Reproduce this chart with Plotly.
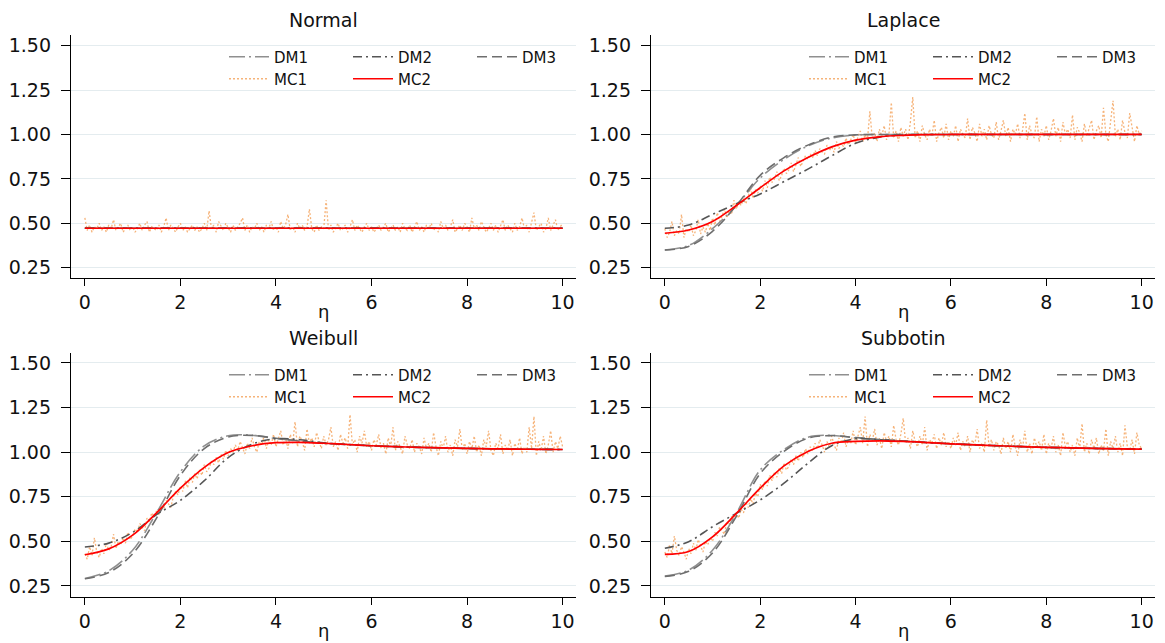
import numpy as np
import plotly.graph_objects as go

# ---------------- data ----------------
PANELS = ["Normal", "Laplace", "Weibull", "Subbotin"]
SERIES = ["DM1", "DM2", "DM3", "MC1", "MC2"]

ETA_SMOOTH = [0.0, 0.5, 1.0, 1.5, 2.0, 2.5, 3.0, 3.5, 4.0, 4.5, 5.0,
              5.5, 6.0, 6.5, 7.0, 7.5, 8.0, 8.5, 9.0, 9.5, 10.0]
X_TICKS = [0, 2, 4, 6, 8, 10]
Y_TICKS = [0.25, 0.50, 0.75, 1.00, 1.25, 1.50]
Y_TICK_LABELS = ["0.25", "0.50", "0.75", "1.00", "1.25", "1.50"]
X_TITLE = "η"

# Normal
normal_dm1 = [0.472, 0.472, 0.472, 0.472, 0.472, 0.472, 0.472, 0.472, 0.472, 0.472, 0.472,
              0.472, 0.472, 0.472, 0.472, 0.472, 0.472, 0.472, 0.472, 0.472, 0.472]
normal_dm2 = [0.473, 0.473, 0.473, 0.473, 0.473, 0.473, 0.473, 0.473, 0.473, 0.473, 0.473,
              0.473, 0.473, 0.473, 0.473, 0.473, 0.473, 0.473, 0.473, 0.473, 0.473]
normal_dm3 = [0.472, 0.472, 0.472, 0.472, 0.472, 0.472, 0.472, 0.472, 0.472, 0.472, 0.472,
              0.472, 0.472, 0.472, 0.472, 0.472, 0.472, 0.472, 0.472, 0.472, 0.472]
normal_mc2 = [0.472, 0.472, 0.472, 0.472, 0.472, 0.472, 0.472, 0.472, 0.472, 0.472, 0.472,
              0.472, 0.472, 0.472, 0.472, 0.472, 0.472, 0.472, 0.472, 0.472, 0.472]
normal_mc1 = [
    0.53, 0.46, 0.49, 0.45, 0.48, 0.47, 0.50, 0.46, 0.48, 0.45, 0.49, 0.47, 0.52, 0.46, 0.48, 0.50, 0.45, 0.47, 0.49, 0.46,
    0.48, 0.45, 0.47, 0.50, 0.46, 0.49, 0.51, 0.45, 0.48, 0.47, 0.46, 0.49, 0.45, 0.48, 0.53, 0.46, 0.49, 0.47, 0.45, 0.48,
    0.50, 0.46, 0.48, 0.45, 0.47, 0.49, 0.46, 0.48, 0.45, 0.47, 0.50, 0.46, 0.57, 0.47, 0.49, 0.45, 0.51, 0.48, 0.46, 0.50,
    0.47, 0.45, 0.49, 0.46, 0.48, 0.50, 0.53, 0.46, 0.49, 0.45, 0.48, 0.47, 0.50, 0.46, 0.48, 0.45, 0.49, 0.47, 0.51, 0.46,
    0.48, 0.45, 0.51, 0.47, 0.49, 0.55, 0.46, 0.48, 0.45, 0.50, 0.47, 0.49, 0.46, 0.48, 0.58, 0.47, 0.45, 0.49, 0.46, 0.48,
    0.47, 0.63, 0.46, 0.49, 0.45, 0.48, 0.50, 0.46, 0.47, 0.49, 0.45, 0.48, 0.52, 0.46, 0.49, 0.47, 0.45, 0.48, 0.50, 0.46,
    0.48, 0.45, 0.47, 0.49, 0.46, 0.48, 0.50, 0.45, 0.47, 0.49, 0.46, 0.48, 0.45, 0.50, 0.47, 0.46, 0.49, 0.45, 0.48, 0.51,
    0.46, 0.48, 0.45, 0.49, 0.47, 0.50, 0.46, 0.48, 0.45, 0.51, 0.47, 0.49, 0.46, 0.48, 0.52, 0.45, 0.47, 0.49, 0.46, 0.50,
    0.48, 0.45, 0.53, 0.47, 0.49, 0.46, 0.51, 0.48, 0.45, 0.47, 0.50, 0.46, 0.49, 0.45, 0.48, 0.52, 0.46, 0.49, 0.47, 0.45,
    0.50, 0.46, 0.48, 0.53, 0.47, 0.49, 0.45, 0.51, 0.56, 0.46, 0.48, 0.50, 0.45, 0.47, 0.53, 0.46, 0.49, 0.52, 0.46, 0.48,
    0.50]

# Laplace
laplace_dm1 = [0.350, 0.375, 0.470, 0.600, 0.755, 0.860, 0.935, 0.980, 0.997, 1.000, 1.000,
               1.000, 1.000, 1.000, 1.000, 1.000, 1.000, 1.000, 1.000, 1.000, 1.000]
laplace_dm2 = [0.472, 0.490, 0.550, 0.610, 0.665, 0.735, 0.805, 0.880, 0.950, 0.985, 0.998,
               1.000, 1.000, 1.000, 1.000, 1.000, 1.000, 1.000, 1.000, 1.000, 1.000]
laplace_dm3 = [0.350, 0.370, 0.455, 0.600, 0.770, 0.870, 0.940, 0.985, 0.998, 1.000, 1.000,
               1.000, 1.000, 1.000, 1.000, 1.000, 1.000, 1.000, 1.000, 1.000, 1.000]
laplace_mc2 = [0.444, 0.462, 0.510, 0.600, 0.700, 0.795, 0.870, 0.930, 0.968, 0.987, 0.995,
               0.999, 1.000, 1.000, 1.000, 1.000, 1.000, 1.000, 1.000, 1.000, 1.000]
laplace_mc1 = [
    0.47, 0.42, 0.45, 0.51, 0.43, 0.46, 0.44, 0.55, 0.42, 0.47, 0.45, 0.49, 0.43, 0.46, 0.52, 0.44, 0.48, 0.45, 0.50, 0.46,
    0.53, 0.49, 0.56, 0.51, 0.54, 0.58, 0.53, 0.57, 0.55, 0.63, 0.58, 0.62, 0.60, 0.64, 0.61, 0.66, 0.70, 0.64, 0.69, 0.67,
    0.71, 0.68, 0.74, 0.70, 0.76, 0.73, 0.75, 0.79, 0.74, 0.77, 0.81, 0.78, 0.80, 0.84, 0.79, 0.83, 0.87, 0.82, 0.85, 0.88,
    0.86, 0.89, 0.87, 0.91, 0.88, 0.92, 0.90, 0.89, 0.94, 0.91, 0.93, 0.90, 0.96, 0.92, 0.95, 0.93, 0.98, 0.94, 0.97, 1.00,
    0.95, 0.99, 1.02, 0.96, 1.00, 0.97, 1.13, 0.98, 1.01, 0.96, 1.03, 0.99, 1.05, 0.97, 1.00, 1.18, 0.98, 1.02, 0.96, 1.04,
    0.99, 1.03, 0.97, 1.07, 1.21, 0.98, 1.02, 0.96, 1.05, 1.00, 0.97, 1.03, 0.99, 1.08, 0.96, 1.01, 1.04, 0.98, 1.06, 0.97,
    1.02, 0.99, 1.05, 0.96, 1.03, 1.00, 0.98, 1.09, 0.97, 1.04, 1.01, 0.96, 1.06, 0.99, 1.03, 0.97, 1.05, 1.00, 0.98, 1.07,
    0.97, 1.02, 1.08, 0.99, 1.04, 0.96, 1.03, 1.00, 1.06, 0.98, 1.02, 1.12, 0.97, 1.05, 1.00, 0.98, 1.10, 0.96, 1.03, 0.99,
    1.05, 0.97, 1.02, 1.09, 0.99, 1.04, 0.96, 1.07, 1.00, 1.03, 0.98, 1.11, 0.97, 1.04, 1.01, 0.96, 1.06, 0.99, 1.03, 1.08,
    0.97, 1.02, 1.05, 0.98, 1.15, 1.00, 0.96, 1.06, 1.19, 0.99, 1.03, 0.97, 1.08, 1.01, 0.98, 1.12, 1.04, 0.96, 1.05, 1.00,
    1.02]

# Weibull
weibull_dm1 = [0.292, 0.335, 0.450, 0.660, 0.890, 1.035, 1.092, 1.095, 1.076, 1.062, 1.050,
               1.043, 1.036, 1.031, 1.027, 1.024, 1.021, 1.019, 1.017, 1.016, 1.015]
weibull_dm2 = [0.468, 0.490, 0.550, 0.650, 0.730, 0.840, 0.970, 1.045, 1.075, 1.070, 1.052,
               1.043, 1.036, 1.031, 1.027, 1.024, 1.021, 1.019, 1.017, 1.016, 1.015]
weibull_dm3 = [0.290, 0.325, 0.430, 0.630, 0.870, 1.020, 1.085, 1.094, 1.078, 1.063, 1.050,
               1.043, 1.036, 1.031, 1.027, 1.024, 1.021, 1.019, 1.017, 1.016, 1.015]
weibull_mc2 = [0.425, 0.458, 0.535, 0.660, 0.798, 0.915, 0.998, 1.036, 1.053, 1.055, 1.050,
               1.043, 1.036, 1.031, 1.027, 1.024, 1.021, 1.019, 1.017, 1.016, 1.015]
weibull_mc1 = [
    0.43, 0.40, 0.47, 0.42, 0.52, 0.44, 0.41, 0.46, 0.43, 0.49, 0.45, 0.47, 0.54, 0.46, 0.50, 0.48, 0.52, 0.49, 0.55, 0.51,
    0.53, 0.57, 0.55, 0.60, 0.58, 0.56, 0.63, 0.61, 0.66, 0.64, 0.67, 0.65, 0.70, 0.68, 0.73, 0.71, 0.69, 0.75, 0.78, 0.76,
    0.81, 0.78, 0.84, 0.80, 0.86, 0.83, 0.88, 0.85, 0.90, 0.87, 0.93, 0.89, 0.91, 0.95, 0.93, 0.97, 0.94, 0.99, 0.96, 1.01,
    0.98, 1.02, 1.00, 1.04, 1.01, 1.06, 1.03, 0.99, 1.05, 1.02, 1.08, 1.03, 1.00, 1.06, 1.04, 1.09, 1.02, 1.07, 1.04, 1.10,
    1.03, 1.07, 1.12, 1.04, 1.08, 1.02, 1.10, 1.05, 1.17, 1.03, 1.09, 1.06, 1.01, 1.13, 1.05, 1.08, 1.03, 1.11, 1.06, 1.02,
    1.09, 1.04, 1.07, 1.14, 1.03, 1.06, 1.01, 1.10, 1.05, 1.08, 1.02, 1.21, 1.04, 1.07, 1.00, 1.09, 1.05, 1.12, 1.03, 1.06,
    1.01, 1.07, 1.04, 1.10, 1.02, 1.05, 0.99, 1.08, 1.03, 1.14, 1.01, 1.06, 1.03, 0.99, 1.09, 1.04, 1.02, 1.07, 1.00, 1.05,
    1.03, 0.99, 1.08, 1.02, 1.05, 1.00, 1.11, 1.03, 0.98, 1.06, 1.02, 1.09, 1.00, 1.04, 0.98, 1.07, 1.03, 1.13, 1.01, 1.05,
    0.99, 1.06, 1.02, 1.09, 1.00, 1.04, 0.98, 1.07, 1.03, 1.12, 1.01, 0.98, 1.05, 1.02, 1.10, 0.99, 1.04, 1.01, 1.07, 0.98,
    1.05, 1.01, 1.08, 0.99, 1.03, 1.00, 1.14, 1.02, 1.20, 0.98, 1.06, 1.01, 1.09, 0.99, 1.04, 1.12, 1.00, 1.06, 1.02, 1.09,
    1.03]

# Subbotin
subbotin_dm1 = [0.305, 0.339, 0.450, 0.657, 0.900, 1.015, 1.084, 1.094, 1.080, 1.070, 1.062,
                1.054, 1.047, 1.041, 1.036, 1.031, 1.027, 1.024, 1.021, 1.019, 1.017]
subbotin_dm2 = [0.461, 0.498, 0.582, 0.657, 0.732, 0.826, 0.938, 1.036, 1.075, 1.070, 1.063,
                1.054, 1.047, 1.041, 1.036, 1.031, 1.027, 1.024, 1.021, 1.019, 1.017]
subbotin_dm3 = [0.303, 0.332, 0.435, 0.640, 0.880, 1.005, 1.078, 1.093, 1.082, 1.071, 1.062,
                1.054, 1.047, 1.041, 1.036, 1.031, 1.027, 1.024, 1.021, 1.019, 1.017]
subbotin_mc2 = [0.427, 0.443, 0.525, 0.657, 0.798, 0.923, 1.004, 1.050, 1.060, 1.063, 1.060,
                1.054, 1.047, 1.041, 1.036, 1.031, 1.027, 1.024, 1.021, 1.019, 1.017]
subbotin_mc1 = [
    0.44, 0.41, 0.48, 0.43, 0.53, 0.45, 0.42, 0.47, 0.44, 0.40, 0.46, 0.43, 0.49, 0.45, 0.51, 0.47, 0.44, 0.50, 0.48, 0.52,
    0.50, 0.55, 0.53, 0.58, 0.56, 0.54, 0.61, 0.59, 0.64, 0.62, 0.66, 0.63, 0.68, 0.66, 0.72, 0.69, 0.74, 0.71, 0.77, 0.75,
    0.82, 0.79, 0.84, 0.81, 0.87, 0.84, 0.89, 0.86, 0.91, 0.88, 0.94, 0.90, 0.92, 0.96, 0.93, 0.98, 0.95, 1.00, 0.97, 1.02,
    0.99, 1.03, 1.01, 1.05, 1.02, 1.07, 1.04, 1.00, 1.06, 1.03, 1.09, 1.04, 1.01, 1.08, 1.05, 1.11, 1.03, 1.07, 1.05, 1.12,
    1.04, 1.09, 1.14, 1.05, 1.20, 1.03, 1.10, 1.06, 1.13, 1.04, 1.08, 1.02, 1.11, 1.06, 1.09, 1.03, 1.15, 1.07, 1.04, 1.10,
    1.19, 1.05, 1.08, 1.02, 1.12, 1.06, 1.03, 1.09, 1.04, 1.14, 1.01, 1.07, 1.05, 1.10, 1.02, 1.08, 1.04, 1.11, 1.03, 1.06,
    1.02, 1.08, 1.04, 1.11, 1.01, 1.06, 1.03, 1.09, 1.00, 1.07, 1.04, 1.13, 1.02, 1.05, 1.00, 1.18, 1.03, 1.07, 1.01, 1.06,
    1.04, 0.99, 1.08, 1.02, 1.06, 1.00, 1.10, 1.03, 0.98, 1.07, 1.02, 1.12, 1.00, 1.05, 0.99, 1.08, 1.03, 1.06, 1.01, 1.10,
    0.99, 1.05, 1.02, 1.09, 1.00, 1.04, 0.98, 1.11, 1.03, 1.06, 1.00, 1.04, 0.98, 1.08, 1.02, 1.16, 1.00, 1.05, 0.99, 1.07,
    1.02, 1.08, 0.99, 1.04, 1.01, 1.13, 0.98, 1.06, 1.02, 1.09, 1.00, 1.05, 0.98, 1.15, 1.03, 1.01, 1.07, 0.99, 1.11, 1.04,
    1.02]

DATA = {
    "Normal": [normal_dm1, normal_dm2, normal_dm3, normal_mc1, normal_mc2],
    "Laplace": [laplace_dm1, laplace_dm2, laplace_dm3, laplace_mc1, laplace_mc2],
    "Weibull": [weibull_dm1, weibull_dm2, weibull_dm3, weibull_mc1, weibull_mc2],
    "Subbotin": [subbotin_dm1, subbotin_dm2, subbotin_dm3, subbotin_mc1, subbotin_mc2],
}

# ---------------- styling ----------------
W, H = 1165, 643
FONT = "DejaVu Sans"
STYLE = {
    "DM1": dict(color="#8f8f8f", width=1.6, dash="16px,4px,2px,4px"),
    "DM2": dict(color="#555555", width=1.6, dash="9px,4px,2px,4px"),
    "DM3": dict(color="#6e6e6e", width=1.6, dash="10px,5px"),
    "MC1": dict(color="rgba(244,166,98,0.85)", width=1.3, dash="2px,2px"),
    "MC2": dict(color="#ff0000", width=1.7, dash="solid"),
}

# panel pixel boxes: (left, right, top, bottom)
BOXES = {
    "Normal": (71, 576, 35, 278),
    "Laplace": (651, 1155, 35, 278),
    "Weibull": (71, 576, 353, 597),
    "Subbotin": (651, 1155, 353, 597),
}
YRANGES = {"Normal": [0.192, 1.56], "Laplace": [0.192, 1.56],
           "Weibull": [0.188, 1.556], "Subbotin": [0.188, 1.556]}

fig = go.Figure()
draw_order = [3, 0, 2, 1, 4]  # MC1 behind, MC2 on top

for p, name in enumerate(PANELS):
    ax = "" if p == 0 else str(p + 1)
    leg_a = "legend" if p == 0 else "legend%d" % (2 * p + 1)
    leg_b = "legend%d" % (2 * p + 2)
    vals = DATA[name]
    for k in draw_order:
        s = SERIES[k]
        y = vals[k]
        if s == "MC1":
            x = np.linspace(0, 10, len(y))
            line = dict(shape="linear", **STYLE[s])
        else:
            x = ETA_SMOOTH
            line = dict(shape="spline", smoothing=1.0, **STYLE[s])
        fig.add_trace(go.Scatter(
            x=x, y=y, mode="lines", name=s, line=line,
            xaxis="x" + ax, yaxis="y" + ax,
            legend=leg_a if s.startswith("DM") else leg_b,
            legendrank=k + 1, showlegend=True, hoverinfo="skip",
        ))

layout = dict(
    width=W, height=H, margin=dict(l=0, r=0, t=0, b=0, autoexpand=False),
    paper_bgcolor="white", plot_bgcolor="white",
    font=dict(family=FONT, size=17, color="#111111"),
    showlegend=True, annotations=[], shapes=[],
)

for p, name in enumerate(PANELS):
    ax = "" if p == 0 else str(p + 1)
    l, r, t, b = BOXES[name]
    xdom = [l / W, r / W]
    ydom = [1 - b / H, 1 - t / H]
    layout["xaxis" + ax] = dict(
        domain=xdom, range=[-0.29, 10.28], anchor="y" + ax, automargin=False,
        tickvals=X_TICKS, ticks="outside", ticklen=7, tickwidth=1.2, tickcolor="#000",
        showline=True, linecolor="#000", linewidth=1.3, showgrid=False, zeroline=False,
        tickfont=dict(family=FONT, size=19, color="#111"),
    )
    layout["yaxis" + ax] = dict(
        domain=ydom, range=YRANGES[name], anchor="x" + ax, automargin=False,
        tickvals=Y_TICKS, ticktext=Y_TICK_LABELS, ticks="outside", ticklen=9, tickwidth=1.2,
        tickcolor="#000", showline=True, linecolor="#000", linewidth=1.3,
        showgrid=True, gridcolor="#e4ecef", gridwidth=1.4, zeroline=False,
        ticklabelstandoff=6,
        tickfont=dict(family=FONT, size=19, color="#111"),
    )
    # panel title
    layout["annotations"].append(dict(
        text=name, x=(xdom[0] + xdom[1]) / 2, y=1 - (t - 15) / H, xref="paper", yref="paper",
        showarrow=False, xanchor="center", yanchor="middle",
        font=dict(family=FONT, size=19, color="#111"),
    ))
    # x-axis title (eta)
    layout["annotations"].append(dict(
        text=X_TITLE, x=(xdom[0] + xdom[1]) / 2, y=1 - (b + 33) / H, xref="paper", yref="paper",
        showarrow=False, xanchor="center", yanchor="middle",
        font=dict(family=FONT, size=18, color="#111"),
    ))
    # white legend background box (hides gridlines behind the key, like the original)
    layout["shapes"].append(dict(
        type="rect", xref="paper", yref="paper", layer="between",
        x0=(l + 137) / W, x1=(r - 1) / W, y0=1 - (t + 58) / H, y1=1 - (t + 8) / H,
        fillcolor="white", line=dict(width=0),
    ))
    leg_a = "legend" if p == 0 else "legend%d" % (2 * p + 1)
    leg_b = "legend%d" % (2 * p + 2)
    lx = (l + 153) / W
    for leg, row_y in ((leg_a, t + 22), (leg_b, t + 44)):
        layout[leg] = dict(
            x=lx, y=1 - row_y / H, xanchor="left", yanchor="middle", xref="paper", yref="paper",
            orientation="h", entrywidth=69, entrywidthmode="pixels", itemwidth=40,
            bgcolor="rgba(0,0,0,0)", borderwidth=0, font=dict(family=FONT, size=15, color="#111"),
            traceorder="normal", tracegroupgap=0, itemclick=False, itemdoubleclick=False,
        )

fig.update_layout(**layout)
fig.write_html("out.html", config={"displayModeBar": False},
               post_script="document.body.style.margin='0';")
